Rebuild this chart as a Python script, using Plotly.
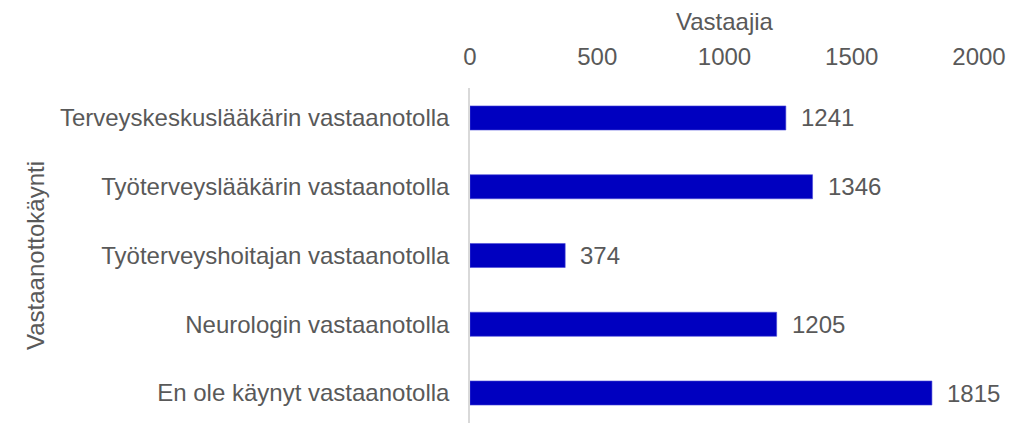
import plotly.graph_objects as go

categories = [
    "Terveyskeskuslääkärin vastaanotolla",
    "Työterveyslääkärin vastaanotolla",
    "Työterveyshoitajan vastaanotolla",
    "Neurologin vastaanotolla",
    "En ole käynyt vastaanotolla",
]
values = [1241, 1346, 374, 1205, 1815]
x_ticks = [0, 500, 1000, 1500, 2000]

FONT = "Liberation Sans, Arial, sans-serif"
GRAY = "#595959"
FS = 24

fig = go.Figure(
    go.Bar(
        x=values,
        y=categories,
        orientation="h",
        marker=dict(color="#0000C0", line=dict(color="#4a4ad8", width=0.6)),
        width=0.35,
        hoverinfo="x+y",
    )
)

for c, v in zip(categories, values):
    fig.add_annotation(
        x=v, y=c, text=str(v), showarrow=False, xanchor="left", xshift=13,
        font=dict(family=FONT, size=FS, color=GRAY),
    )

fig.update_layout(
    width=1022,
    height=415,
    margin=dict(l=462, r=51, t=80, b=0),
    paper_bgcolor="white",
    plot_bgcolor="white",
    showlegend=False,
    font=dict(family=FONT, size=FS, color=GRAY),
    xaxis=dict(
        side="top",
        range=[0, 2000],
        tickvals=x_ticks,
        ticktext=[str(t) for t in x_ticks],
        showgrid=False,
        zeroline=False,
        showline=False,
        ticks="",
        ticklabelstandoff=17,
        title=dict(text="Vastaajia", font=dict(size=FS, color=GRAY), standoff=10),
        automargin=False,
    ),
    yaxis=dict(
        type="category",
        categoryorder="array",
        categoryarray=categories,
        range=[4.436, -0.436],
        showgrid=False,
        zeroline=False,
        showline=True,
        linecolor="#D9D9D9",
        linewidth=1.5,
        ticks="",
        ticklabelstandoff=14,
        title=dict(text="Vastaanottokäynti", font=dict(size=FS, color=GRAY), standoff=9),
        automargin=False,
    ),
)

fig.write_html("out.html")
